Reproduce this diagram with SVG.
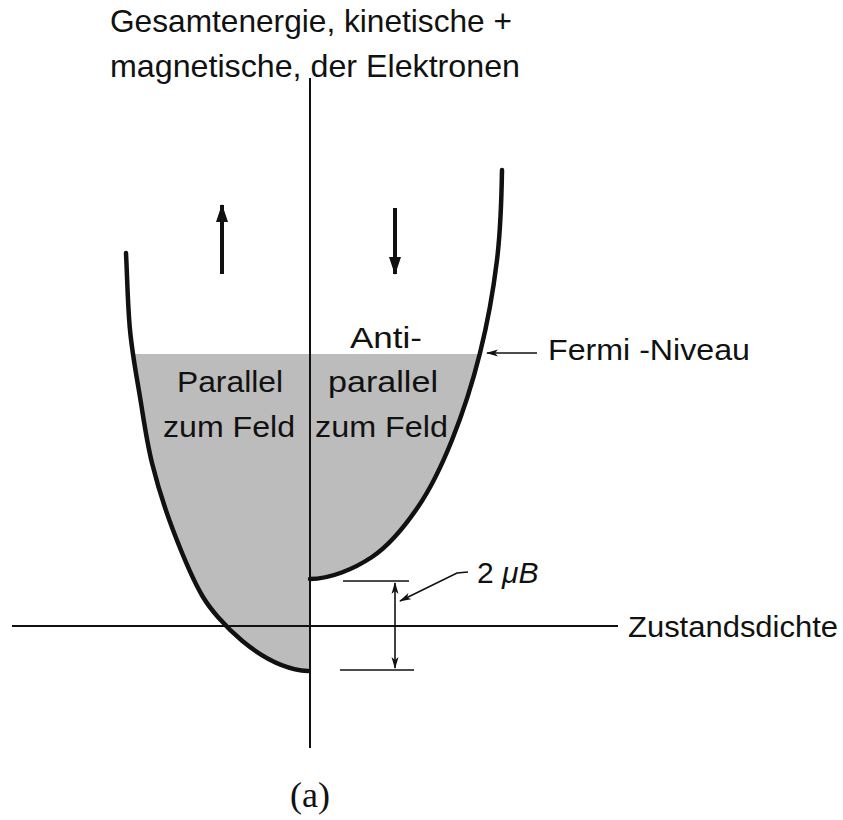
<svg xmlns="http://www.w3.org/2000/svg" width="843" height="820" viewBox="0 0 843 820">
  <style>
    .lbl { font-family: "Liberation Sans", Arial, sans-serif; fill: #111; }
    .axis { stroke: #111; stroke-width: 2; fill: none; }
    .curve { stroke: #111; stroke-width: 4.5; fill: none; stroke-linecap: round; }
    .thin { stroke: #111; stroke-width: 1.6; fill: none; }
    .fill { fill: #bcbcbc; stroke: none; }
  </style>
  <defs>
    <clipPath id="belowFermi">
      <rect x="0" y="354" width="843" height="400"/>
    </clipPath>
    <marker id="thinHead" viewBox="0 0 12 8" refX="11" refY="4" markerWidth="12" markerHeight="8" markerUnits="userSpaceOnUse" orient="auto-start-reverse">
      <path d="M0,0.5 L12,4 L0,7.5 L3,4 Z" fill="#111"/>
    </marker>
    <marker id="bigHead" viewBox="0 0 18 12" refX="17" refY="6" markerWidth="18" markerHeight="12" markerUnits="userSpaceOnUse" orient="auto">
      <path d="M0,0 L18,6 L0,12 Z" fill="#111"/>
    </marker>
  </defs>

  <!-- occupied states (grey fill) -->
  <g id="fill" clip-path="url(#belowFermi)">
    <path class="fill" d="M126,253 C127.3,278.7 127.7,306 130,330 C132.3,354 136.3,374.8 140,397 C143.7,419.2 146.5,440.8 152,463 C157.5,485.2 164.5,507.7 173,530 C181.5,552.3 191.3,577.5 203,597 C216,618.7 260,668 308,671 L310,671 L310,253 Z"/>
    <path class="fill" d="M310,579 C330,579 354,569 372,557 C390,545 404.7,526.5 418,507 C431.3,487.5 441.7,465.7 452,440 C462.3,414.3 472.5,383 480,353 C487.5,323 493.3,290.5 497,260 C500.7,229.5 501.5,200 502,170 L310,170 Z"/>
  </g>

  <!-- axes -->
  <g id="axes">
    <line class="axis" x1="310" y1="78" x2="310" y2="748"/>
    <line class="axis" x1="12" y1="626" x2="618" y2="626"/>
  </g>

  <!-- density-of-states curves -->
  <g id="curve-parallel">
    <path class="curve" d="M126,253 C127.3,278.7 127.7,306 130,330 C132.3,354 136.3,374.8 140,397 C143.7,419.2 146.5,440.8 152,463 C157.5,485.2 164.5,507.7 173,530 C181.5,552.3 191.3,577.5 203,597 C216,618.7 260,668 308,671"/>
  </g>
  <g id="curve-antiparallel">
    <path class="curve" d="M310,579 C330,579 354,569 372,557 C390,545 404.7,526.5 418,507 C431.3,487.5 441.7,465.7 452,440 C462.3,414.3 472.5,383 480,353 C487.5,323 493.3,290.5 497,260 C500.7,229.5 501.5,200 502,170"/>
  </g>

  <!-- dimension ticks -->
  <g id="dimension">
    <line class="thin" x1="343" y1="581" x2="409" y2="581"/>
    <line class="thin" x1="340" y1="670" x2="414" y2="670"/>
  </g>

  <!-- connectors -->
  <g id="connectors">
    <line x1="222" y1="274" x2="222" y2="205" stroke="#111" stroke-width="4" marker-end="url(#bigHead)"/>
    <line x1="395" y1="208" x2="395" y2="274" stroke="#111" stroke-width="4" marker-end="url(#bigHead)"/>
    <line class="thin" x1="537" y1="353" x2="487" y2="353" marker-end="url(#thinHead)"/>
    <line class="thin" x1="395" y1="583" x2="395" y2="668" marker-start="url(#thinHead)" marker-end="url(#thinHead)"/>
    <polyline class="thin" points="468,572 457,573 400,601" marker-end="url(#thinHead)"/>
  </g>

  <!-- labels -->
  <g id="title">
    <text class="lbl" x="110" y="32" font-size="32" textLength="402" lengthAdjust="spacingAndGlyphs">Gesamtenergie, kinetische +</text>
    <text class="lbl" x="110" y="77" font-size="32" textLength="410" lengthAdjust="spacingAndGlyphs">magnetische, der Elektronen</text>
  </g>
  <g id="label-parallel">
    <text class="lbl" x="177" y="392" font-size="30" textLength="106" lengthAdjust="spacingAndGlyphs">Parallel</text>
    <text class="lbl" x="163" y="437" font-size="30" textLength="132" lengthAdjust="spacingAndGlyphs">zum Feld</text>
  </g>
  <g id="label-antiparallel">
    <text class="lbl" x="350" y="348" font-size="30" textLength="72" lengthAdjust="spacingAndGlyphs">Anti-</text>
    <text class="lbl" x="328" y="392" font-size="30" textLength="110" lengthAdjust="spacingAndGlyphs">parallel</text>
    <text class="lbl" x="315" y="437" font-size="30" textLength="133" lengthAdjust="spacingAndGlyphs">zum Feld</text>
  </g>
  <g id="label-fermi">
    <text class="lbl" x="548" y="360" font-size="30" textLength="202" lengthAdjust="spacingAndGlyphs">Fermi -Niveau</text>
  </g>
  <g id="label-dos">
    <text class="lbl" x="628" y="637" font-size="30" textLength="210" lengthAdjust="spacingAndGlyphs">Zustandsdichte</text>
  </g>
  <g id="label-2muB">
    <text class="lbl" x="477" y="583" font-size="30">2 <tspan font-style="italic">μB</tspan></text>
  </g>
  <g id="caption">
    <text x="310" y="807" font-size="36" text-anchor="middle" font-family="'Liberation Serif', 'Times New Roman', serif" fill="#111">(a)</text>
  </g>
</svg>
